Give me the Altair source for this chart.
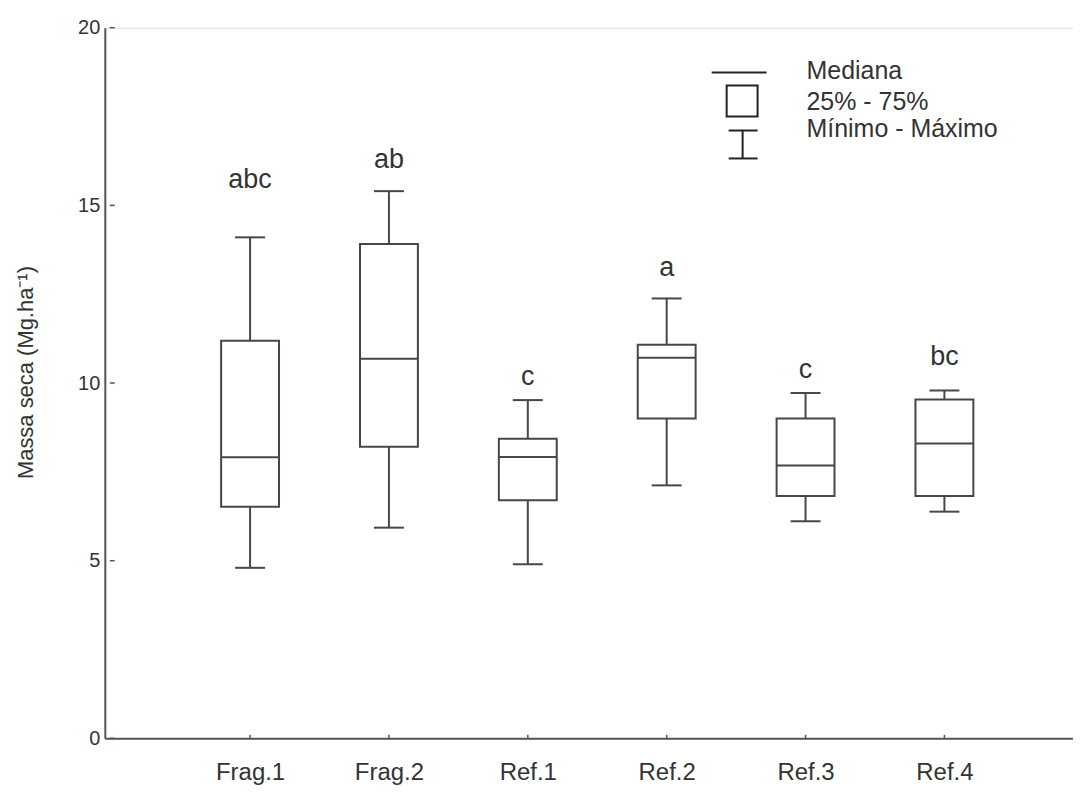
import altair as alt
import pandas as pd

# ---- data ----
cats = ["Frag.1", "Frag.2", "Ref.1", "Ref.2", "Ref.3", "Ref.4"]
mins = [4.80, 5.93, 4.90, 7.12, 6.11, 6.38]
q1s = [6.52, 8.21, 6.70, 9.00, 6.82, 6.82]
medians = [7.91, 10.68, 7.92, 10.71, 7.68, 8.30]
q3s = [11.19, 13.91, 8.43, 11.08, 9.00, 9.54]
maxs = [14.10, 15.40, 9.52, 12.38, 9.72, 9.79]
letters = ["abc", "ab", "c", "a", "c", "bc"]
letter_y = [15.72, 16.29, 10.18, 13.25, 10.38, 10.72]
y_ticks = [0, 5, 10, 15, 20]
legend_labels = ["Mediana", "25% - 75%", "Mínimo - Máximo"]

df = pd.DataFrame({
    "idx": list(range(1, len(cats) + 1)),
    "cat": cats,
    "min": mins, "q1": q1s, "med": medians, "q3": q3s, "max": maxs,
    "letter": letters, "ly": letter_y,
})
ydf = pd.DataFrame({"v": y_ticks})
one = pd.DataFrame({"k": [0]})

FONT = "Liberation Sans"
INK = "#474747"
TXT = "#333333"
XDOM = [-0.01, 6.89]

label_expr = "[" + ",".join("'" + c + "'" for c in cats) + "][datum.value - 1]"

xscale = alt.Scale(domain=XDOM, nice=False, zero=False)
yscale = alt.Scale(domain=[0, 20], nice=False)

x_enc = alt.X("idx:Q", scale=xscale,
              axis=alt.Axis(values=list(range(1, len(cats) + 1)), labelExpr=label_expr,
                            title=None, grid=False, ticks=False, labelPadding=22,
                            labelFontSize=24, labelFont=FONT, labelColor=TXT,
                            domainColor="#555555", domainWidth=2))
y_axis = alt.Axis(values=y_ticks, title="Massa seca (Mg.ha⁻¹)", grid=False, ticks=False,
                  labelPadding=5, labelFontSize=20, labelFont=FONT, labelColor=TXT,
                  titleFont=FONT, titleFontSize=22, titleFontWeight="normal", titleColor=TXT,
                  titlePadding=40, titleY=345,
                  domainColor="#555555", domainWidth=2)

base = alt.Chart(df)

whisk_lo = base.mark_rule(color=INK, strokeWidth=2).encode(
    x=x_enc, y=alt.Y("min:Q", scale=yscale, axis=y_axis), y2="q1:Q")
whisk_hi = base.mark_rule(color=INK, strokeWidth=2).encode(
    x="idx:Q", y="q3:Q", y2="max:Q")
cap_lo = base.mark_tick(orient="horizontal", size=30, thickness=2, color=INK, opacity=1).encode(
    x="idx:Q", y="min:Q")
cap_hi = base.mark_tick(orient="horizontal", size=30, thickness=2, color=INK, opacity=1).encode(
    x="idx:Q", y="max:Q")
box = base.mark_bar(size=58, fill="white", stroke=INK, strokeWidth=2).encode(
    x="idx:Q", y="q1:Q", y2="q3:Q")
med = base.mark_tick(orient="horizontal", size=58, thickness=2, color=INK, opacity=1).encode(
    x="idx:Q", y="med:Q")
lett = base.mark_text(font=FONT, fontSize=27, color=TXT, baseline="middle").encode(
    x="idx:Q", y="ly:Q", text="letter:N")

# inner axis ticks
ytk = alt.Chart(ydf).mark_rule(color="#555555", strokeWidth=1.5).encode(
    y="v:Q", x=alt.datum(XDOM[0]), x2=alt.datum(0.025))
xtk = base.mark_rule(color="#555555", strokeWidth=1.5).encode(
    x="idx:Q", y=alt.datum(0), y2=alt.datum(0.1))

# custom legend (decoration, in pixel space)
lg = alt.Chart(one)
lg_line = lg.mark_rule(color="#222222", strokeWidth=2).encode(
    x=alt.value(608), x2=alt.value(663), y=alt.value(45))
lg_box = lg.mark_rect(fill="white", stroke="#222222", strokeWidth=2).encode(
    x=alt.value(623), x2=alt.value(654), y=alt.value(58), y2=alt.value(89))
lg_w = lg.mark_rule(color="#222222", strokeWidth=2).encode(
    x=alt.value(639), y=alt.value(103), y2=alt.value(131))
lg_c1 = lg.mark_rule(color="#222222", strokeWidth=2).encode(
    x=alt.value(625), x2=alt.value(654), y=alt.value(103))
lg_c2 = lg.mark_rule(color="#222222", strokeWidth=2).encode(
    x=alt.value(625), x2=alt.value(654), y=alt.value(131))
lg_t = [
    lg.mark_text(text=legend_labels[i], font=FONT, fontSize=25, color=TXT,
                 align="left", baseline="middle").encode(x=alt.value(703), y=alt.value(yy))
    for i, yy in enumerate([43, 74, 102])
]

chart = alt.layer(
    whisk_lo, whisk_hi, cap_lo, cap_hi, box, med, lett, ytk, xtk,
    lg_line, lg_box, lg_w, lg_c1, lg_c2, *lg_t
).properties(
    width=970, height=712,
    autosize=alt.AutoSizeParams(type="none"),
    padding={"left": 97, "top": 19, "right": 0, "bottom": 55},
).configure_view(strokeWidth=0).configure(background="white")

chart.save("out.html", embed_options={"renderer": "svg", "actions": False})
